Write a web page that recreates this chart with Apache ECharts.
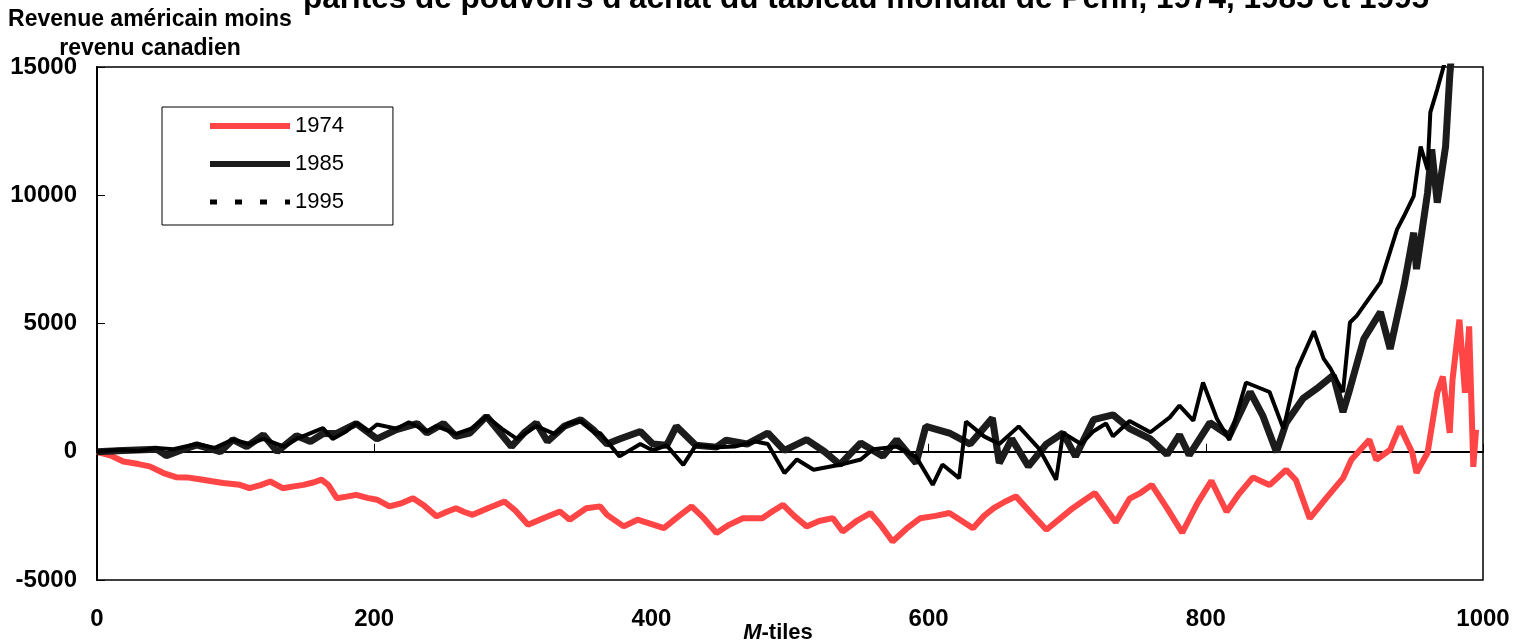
<!DOCTYPE html>
<html>
<head>
<meta charset="utf-8">
<script src="https://cdn.jsdelivr.net/npm/echarts@6/dist/echarts.min.js"></script>
<style>
    html, body { margin: 0; padding: 0; background: #fff; }
    #chart { width: 1531px; height: 643px; }
</style>
</head>
<body>
<div id="chart"></div>
<script>
// M-tile positions and US minus Canadian income
var xTicks = [0, 200, 400, 600, 800, 1000];
var yTicks = [-5000, 0, 5000, 10000, 15000];
var seriesNames = ['1974', '1985', '1995'];

var data1974 = [
    [0, 0], [10, -150], [19, -380], [30, -480], [38, -570], [48, -830], [57, -990], [65, -1000],
    [74, -1070], [83, -1150], [91, -1220], [103, -1290], [110, -1420], [118, -1300], [125, -1160],
    [134, -1420], [142, -1350], [149, -1290], [156, -1200], [162, -1090], [167, -1300], [173, -1810],
    [180, -1750], [187, -1680], [195, -1800], [202, -1870], [211, -2130], [220, -2000], [228, -1810],
    [236, -2100], [245, -2520], [252, -2350], [259, -2200], [265, -2350], [271, -2460], [282, -2200],
    [294, -1940], [302, -2300], [311, -2850], [322, -2590], [334, -2330], [341, -2650], [353, -2200],
    [363, -2130], [368, -2460], [380, -2910], [390, -2650], [399, -2800], [409, -2980], [420, -2500],
    [429, -2130], [438, -2600], [447, -3170], [456, -2850], [466, -2590], [480, -2590], [488, -2300],
    [495, -2070], [503, -2500], [512, -2910], [521, -2700], [531, -2590], [538, -3110], [548, -2700],
    [558, -2390], [566, -2900], [574, -3500], [584, -3000], [594, -2590], [605, -2500], [615, -2390],
    [624, -2700], [632, -2980], [640, -2500], [647, -2200], [655, -1950], [663, -1740], [674, -2400],
    [685, -3040], [695, -2600], [704, -2200], [712, -1900], [720, -1610], [735, -2750], [745, -1830],
    [753, -1600], [761, -1290], [772, -2200], [783, -3150], [794, -2000], [804, -1130], [815, -2340],
    [824, -1640], [834, -1000], [846, -1300], [858, -700], [865, -1100], [875, -2600], [887, -1800],
    [899, -1030], [905, -310], [918, 470], [923, -310], [933, 80], [940, 980], [949, -40], [952, -820],
    [960, -40], [967, 2300], [971, 2930], [976, 740], [978, 2800], [983, 5150], [987, 2300],
    [990, 4890], [993, -590], [995, 860]
];

var data1985 = [
    [0, 0], [19, 50], [43, 100], [50, -150], [60, 50], [72, 270], [89, 0], [98, 470], [108, 200],
    [120, 660], [130, 10], [144, 620], [154, 400], [163, 700], [173, 720], [187, 1100], [202, 500],
    [216, 860], [231, 1100], [238, 730], [250, 1100], [259, 600], [269, 730], [281, 1380], [287, 990],
    [299, 200], [308, 730], [317, 1120], [325, 400], [337, 990], [349, 1250], [358, 860], [368, 300],
    [377, 500], [392, 790], [401, 300], [411, 250], [418, 990], [432, 250], [447, 180], [454, 450],
    [469, 300], [484, 730], [496, 50], [512, 470], [525, 0], [536, -500], [551, 340], [567, -180],
    [577, 470], [591, -440], [598, 990], [615, 730], [630, 300], [646, 1310], [651, -440], [660, 500],
    [672, -570], [685, 300], [697, 730], [706, -180], [719, 1250], [733, 1440], [745, 900], [760, 500],
    [772, -110], [781, 660], [788, -130], [803, 1130], [817, 620], [832, 2330], [841, 1420], [851, -10],
    [858, 1130], [870, 2070], [880, 2460], [892, 2980], [899, 1550], [904, 2460], [914, 4400],
    [926, 5440], [933, 4010], [943, 6470], [950, 8540], [952, 7120], [960, 10100], [963, 11790],
    [967, 9710], [973, 11900], [976, 14650], [978, 16000]
];

var data1995 = [
    [0, 0], [15, 80], [30, 30], [43, 150], [55, 100], [72, 300], [85, 150], [98, 470], [110, 300],
    [120, 500], [135, 200], [144, 500], [163, 920], [170, 500], [180, 800], [187, 1120], [196, 800],
    [202, 1060], [216, 900], [225, 1150], [238, 800], [245, 1000], [259, 700], [270, 900], [281, 1380],
    [292, 900], [303, 500], [317, 1000], [330, 700], [340, 1100], [349, 1200], [360, 700], [363, 730],
    [377, -180], [392, 300], [401, 50], [411, 250], [423, -510], [432, 250], [447, 180], [460, 200],
    [475, 400], [484, 300], [496, -830], [505, -300], [517, -700], [536, -510], [551, -300], [560, 100],
    [577, 200], [591, -200], [603, -1290], [610, -500], [622, -1030], [627, 1180], [640, 600],
    [651, 300], [665, 990], [680, 100], [692, -1090], [697, 730], [710, 300], [719, 800], [728, 1100],
    [733, 600], [745, 1200], [760, 760], [774, 1340], [781, 1800], [791, 1210], [798, 2700],
    [808, 1290], [817, 460], [829, 2700], [846, 2330], [856, 890], [866, 3240], [878, 4700],
    [885, 3630], [890, 3240], [899, 2330], [904, 5040], [909, 5310], [926, 6600], [938, 8670],
    [943, 9190], [950, 9970], [955, 11900], [960, 11000], [962, 13230], [967, 14130], [972, 15100],
    [974, 16000]
];

var myChart = echarts.init(document.getElementById('chart'));

var FONT = 'Liberation Sans, Arial, sans-serif';
var axisFont = {
    fontFamily: FONT,
    fontWeight: 'bold',
    fontSize: 24,
    color: '#000',
    formatter: function (v) { return String(v); }
};

option = {
    animation: false,
    backgroundColor: '#fff',
    title: {
        text: "parités de pouvoirs d'achat du tableau mondial de Penn, 1974, 1985 et 1995",
        left: 303,
        top: -17,
        padding: 0,
        textStyle: {
            fontFamily: FONT,
            fontWeight: 'bold',
            fontSize: 31.5,
            color: '#000'
        }
    },
    legend: {
        data: [
            { name: '1974' },
            { name: '1985' },
            { name: '1995', lineStyle: { type: [7, 18], width: 5 } }
        ],
        orient: 'vertical',
        left: 162,
        top: 107,
        itemWidth: 80,
        itemHeight: 20,
        itemGap: 16,
        padding: [8, 49, 12, 45],
        borderColor: '#000',
        borderWidth: 1,
        selectedMode: false,
        itemStyle: { opacity: 0, borderWidth: 0 },
        lineStyle: { width: 6 },
        textStyle: {
            fontFamily: FONT,
            fontSize: 22,
            color: '#000'
        }
    },
    grid: {
        left: 97,
        right: 48,
        top: 67,
        bottom: 63,
        outerBoundsMode: 'none',
        containLabel: false,
        show: true,
        borderColor: '#000',
        borderWidth: 1.5,
        backgroundColor: 'transparent'
    },
    xAxis: {
        type: 'value',
        min: xTicks[0],
        max: xTicks[xTicks.length - 1],
        interval: 200,
        name: '{i|M}{b|-tiles}',
        nameLocation: 'middle',
        nameGap: 42,
        nameMoveOverlap: false,
        nameTextStyle: {
            padding: [0, 24, 0, 0],
            rich: {
                i: { fontFamily: FONT, fontWeight: 'bold', fontStyle: 'italic', fontSize: 22, color: '#000' },
                b: { fontFamily: FONT, fontWeight: 'bold', fontSize: 22, color: '#000' }
            }
        },
        axisLine: { lineStyle: { color: '#000', width: 2 } },
        axisTick: { inside: true, length: 8, lineStyle: { color: '#000', width: 1 } },
        splitLine: { show: false },
        axisLabel: Object.assign({ margin: 27 }, axisFont)
    },
    yAxis: {
        type: 'value',
        min: yTicks[0],
        max: yTicks[yTicks.length - 1],
        interval: 5000,
        name: 'Revenue américain moins\nrevenu canadien',
        nameLocation: 'end',
        nameGap: 4,
        nameMoveOverlap: false,
        nameTextStyle: {
            fontFamily: FONT,
            fontWeight: 'bold',
            fontSize: 23,
            lineHeight: 29,
            color: '#000',
            align: 'center',
            padding: [0, 0, 0, 106]
        },
        axisLine: { show: true, lineStyle: { color: '#000', width: 2 } },
        axisTick: { show: true, inside: true, length: 8, lineStyle: { color: '#000', width: 1 } },
        splitLine: { show: false },
        axisLabel: Object.assign({ margin: 20 }, axisFont)
    },
    series: [
        {
            name: seriesNames[0],
            type: 'line',
            symbol: 'none',
            data: data1974,
            color: '#ff4545',
            lineStyle: { color: '#ff4545', width: 6 }
        },
        {
            name: seriesNames[1],
            type: 'line',
            symbol: 'none',
            data: data1985,
            color: '#1c1c1c',
            lineStyle: { color: '#1c1c1c', width: 7 }
        },
        {
            name: seriesNames[2],
            type: 'line',
            symbol: 'none',
            data: data1995,
            color: '#000',
            lineStyle: { color: '#000', width: 4 }
        }
    ]
};

myChart.setOption(option);
</script>
</body>
</html>
